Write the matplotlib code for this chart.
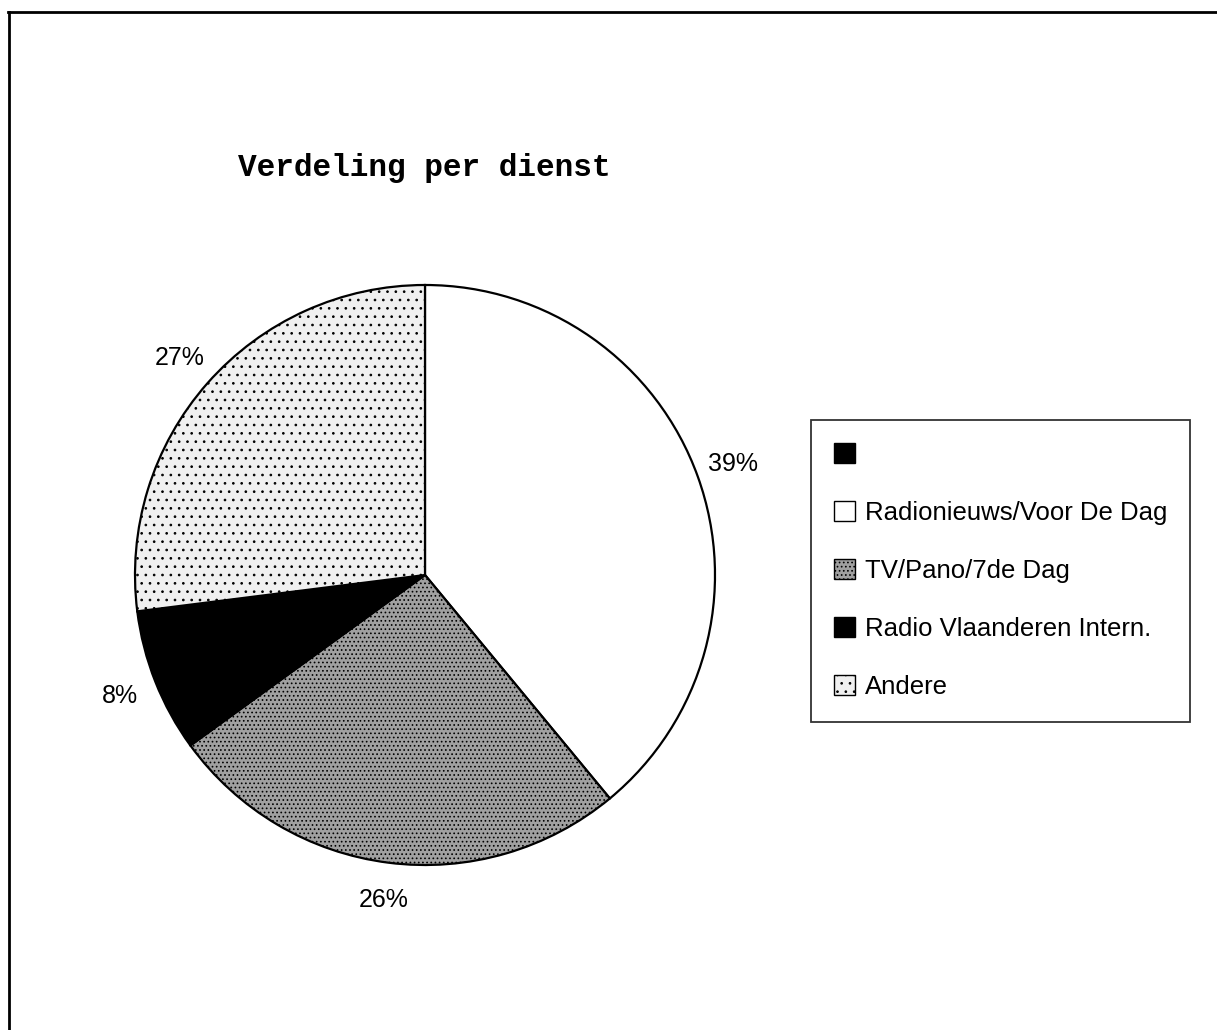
import matplotlib
matplotlib.use("Agg")
import matplotlib.pyplot as plt
from matplotlib.patches import Patch
from matplotlib.lines import Line2D

# data (clockwise from 12 o'clock)
diensten = ["Radionieuws/Voor De Dag", "TV/Pano/7de Dag", "Radio Vlaanderen Intern.", "Andere"]
aandeel = [39, 26, 8, 27]
kleuren = ["white", "#a0a0a0", "black", "#f0f0f0"]
arceringen = [None, "....", None, ".."]

plt.rcParams["hatch.linewidth"] = 0.7

W, H = 1217, 1030
fig = plt.figure(figsize=(W / 100, H / 100), dpi=100)
fig.patch.set_facecolor("white")

# pie axes: centre (425, 575) px, radius 290 px
cx, cy, r = 425, 575, 290
ax = fig.add_axes([(cx - r) / W, (H - cy - r) / H, 2 * r / W, 2 * r / H])
wedges, texts, pcts = ax.pie(aandeel, colors=kleuren, startangle=90, counterclock=False,
                             autopct="%1.0f%%", pctdistance=1.13,
                             wedgeprops=dict(edgecolor="black", linewidth=1.6),
                             textprops=dict(fontfamily="Liberation Sans", fontsize=18, color="black"))
for w, h in zip(wedges, arceringen):
    if h:
        w.set_hatch(h)
ax.set_xlim(-1, 1)
ax.set_ylim(-1, 1)
ax.set_aspect("equal")
ax.axis("off")

# title
fig.text(238 / W, 1 - 168 / H, "Verdeling per dienst", fontfamily="Liberation Mono",
         fontweight="bold", fontsize=22.4, ha="left", va="center")

# legend, with the empty black first entry as in the original
handles = [Patch(facecolor="black", edgecolor="black", label=" ")]
for naam, k, h in zip(diensten, kleuren, arceringen):
    handles.append(Patch(facecolor=k, edgecolor="black", hatch=h, label=naam))
leg = fig.legend(handles=handles, loc="upper left", bbox_to_anchor=(811 / W, 1 - 420 / H),
                 borderaxespad=0, fancybox=False, frameon=True, handlelength=0.8, handleheight=0.8,
                 handletextpad=0.4, labelspacing=1.32, borderpad=0.9,
                 prop=dict(family="Liberation Sans", size=18.5))
leg.get_frame().set_edgecolor("black")
leg.get_frame().set_linewidth(1.3)

# page frame (top and left edges only)
fig.add_artist(Line2D([8 / W, 1], [1 - 12 / H, 1 - 12 / H], transform=fig.transFigure, color="black", lw=2))
fig.add_artist(Line2D([9 / W, 9 / W], [0, 1 - 12 / H], transform=fig.transFigure, color="black", lw=2))

fig.savefig("out.png", dpi=100, facecolor="white")
